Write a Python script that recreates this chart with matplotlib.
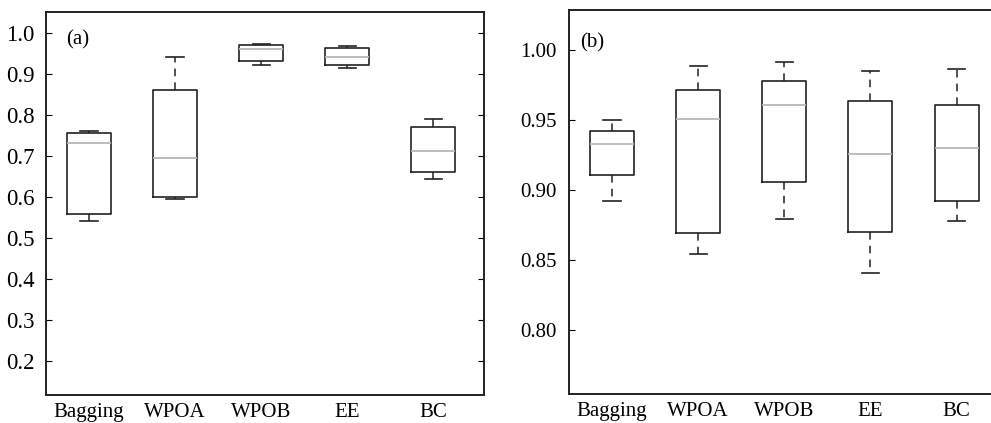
import matplotlib.pyplot as plt

plt.rcParams['font.family'] = ['Liberation Serif', 'DejaVu Serif']

methods = ["Bagging", "WPOA", "WPOB", "EE", "BC"]

# panel (a): whisker low, q1, median, q3, whisker high
a_low = [0.542, 0.594, 0.921, 0.915, 0.643]
a_q1 = [0.558, 0.601, 0.931, 0.922, 0.660]
a_med = [0.731, 0.696, 0.960, 0.941, 0.712]
a_q3 = [0.757, 0.862, 0.971, 0.962, 0.771]
a_high = [0.762, 0.942, 0.974, 0.968, 0.789]

# panel (b)
b_low = [0.892, 0.854, 0.879, 0.841, 0.878]
b_q1 = [0.911, 0.869, 0.906, 0.870, 0.892]
b_med = [0.933, 0.951, 0.961, 0.926, 0.930]
b_q3 = [0.942, 0.972, 0.978, 0.964, 0.961]
b_high = [0.9505, 0.989, 0.992, 0.9855, 0.987]


def make_stats(low, q1, med, q3, high):
	stats = []
	for i in range(len(methods)):
		stats.append({"whislo": low[i], "q1": q1[i], "med": med[i],
					  "q3": q3[i], "whishi": high[i], "label": methods[i]})
	return stats


def draw_panel(ax, stats):
	ax.bxp(stats, positions=range(1, 6), widths=0.51, showfliers=False,
		   boxprops=dict(color="#222222", linewidth=1.2),
		   medianprops=dict(color="#b8b8b8", linewidth=1.3),
		   whiskerprops=dict(color="#222222", linewidth=1.1, linestyle=(0, (5, 4))),
		   capprops=dict(color="#222222", linewidth=1.2),
		   capwidths=0.2)
	for s in ax.spines.values():
		s.set_linewidth(1.4)
		s.set_color("#222222")
	ax.tick_params(axis="y", direction="in", length=4, labelsize=15, width=0.8, pad=9)
	ax.tick_params(axis="x", length=0, labelsize=15, pad=6)


fig = plt.figure(figsize=(9.91, 4.23), dpi=100)

ax1 = fig.add_axes([46 / 991, 1 - 395 / 423, (484 - 46) / 991, (395 - 12) / 423])
draw_panel(ax1, make_stats(a_low, a_q1, a_med, a_q3, a_high))
ax1.set_xlim(0.5, 5.59)
ax1.set_ylim(0.117, 1.051)
ax1.set_yticks([0.2, 0.3, 0.4, 0.5, 0.6, 0.7, 0.8, 0.9, 1.0])
ax1.set_yticklabels(["0.2", "0.3", "0.4", "0.5", "0.6", "0.7", "0.8", "0.9", "1.0"])
ax1.tick_params(axis="y", right=True, labelsize=16.5, pad=8)
ax1.text(0.045, 0.927, "(a)", transform=ax1.transAxes, fontsize=15, va="center")

ax2 = fig.add_axes([569 / 991, 1 - 394 / 423, (991 - 569) / 991, (394 - 10) / 423])
draw_panel(ax2, make_stats(b_low, b_q1, b_med, b_q3, b_high))
ax2.set_xlim(0.5, 5.4)
ax2.set_ylim(0.754, 1.029)
ax2.set_yticks([0.80, 0.85, 0.90, 0.95, 1.00])
ax2.set_yticklabels(["0.80", "0.85", "0.90", "0.95", "1.00"])
ax2.spines["right"].set_visible(False)
ax2.text(0.026, 0.914, "(b)", transform=ax2.transAxes, fontsize=15, va="center")

fig.savefig("out.png", dpi=100)
